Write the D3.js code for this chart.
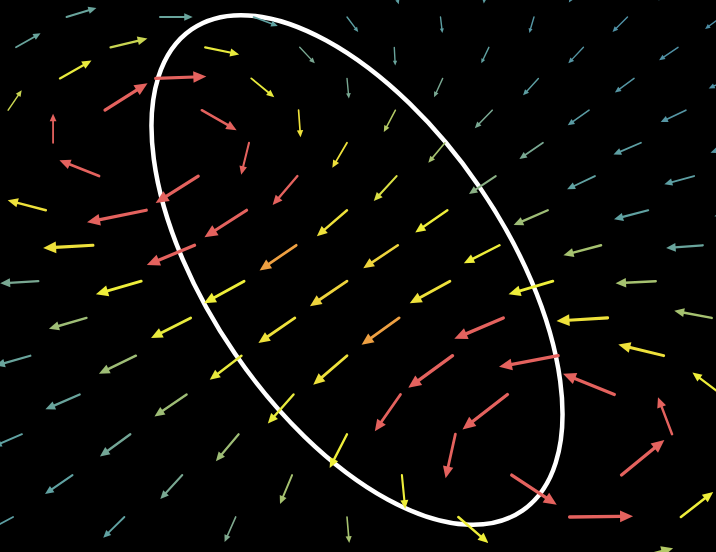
<html>
  <body style="margin:0;background:#000;">
    <script src="https://d3js.org/d3.v7.min.js"></script>
    <script type="text/javascript">
      // vector field sampled on a staggered grid seen in perspective.
      // odd rows hold columns X = -4..4, even rows hold X = -3.5..3.5
      // u = sideways component (column units), v = depth component (row units)
      var fieldU = [
        [0.25, 0.30, 0.30, 0.16, 0.06, -0.02, -0.10, -0.13],
        [null, 0.32, 0.35, 0.26, 0.12, 0.02, -0.05, -0.16, -0.17],
        [0.26, 0.39, 0.36, 0.16, 0.01, -0.08, -0.16, -0.20],
        [null, 0.33, 0.53, 0.24, 0.02, -0.09, -0.16, -0.20, -0.22],
        [0.14, 0.44, 0.36, 0.02, -0.12, -0.18, -0.22, -0.26],
        [null, 0.00, null, -0.08, -0.15, -0.17, -0.24, -0.28, -0.29],
        [null, -0.40, -0.43, -0.25, -0.23, -0.27, -0.28, -0.30],
        [null, -0.38, -0.59, -0.42, -0.30, -0.32, -0.34, -0.34, -0.34],
        [null, -0.49, -0.47, -0.36, -0.34, -0.35, -0.37, -0.36],
        [null, -0.37, -0.44, -0.39, -0.36, -0.39, -0.43, -0.39, null],
        [null, -0.36, -0.38, -0.35, -0.36, -0.47, -0.49, -0.36],
        [null, -0.33, -0.35, -0.30, -0.32, -0.42, -0.56, -0.43, null],
        [null, -0.32, -0.30, -0.24, -0.24, -0.42, -0.48, -0.27],
        [null, -0.26, -0.28, -0.21, -0.16, -0.09, null, -0.13, null],
        [null, -0.25, -0.20, -0.11, 0.03, 0.41, 0.39, null],
        [null, -0.22, -0.19, -0.10, 0.02, 0.27, 0.57, 0.29, null],
        [null, null, null, null, null, null, 0.39, null]
      ];
      var fieldV = [
        [-0.30, -0.10, 0.10, 0.41, 0.58, 0.55, 0.52, 0.45],
        [null, -0.30, 0.00, 0.30, 0.50, 0.53, 0.53, 0.50, 0.40],
        [-0.46, -0.29, 0.23, 0.52, 0.59, 0.52, 0.52, 0.42],
        [null, -0.57, -0.06, 0.60, 0.64, 0.60, 0.54, 0.45, 0.32],
        [-0.62, -0.84, 0.62, 0.84, 0.68, 0.56, 0.47, 0.37],
        [null, -0.88, null, 0.97, 0.76, 0.61, 0.49, 0.36, 0.30],
        [null, -0.47, 0.80, 0.86, 0.74, 0.53, 0.39, 0.24],
        [null, -0.29, 0.35, 0.78, 0.75, 0.64, 0.43, 0.26, 0.17],
        [null, 0.08, 0.56, 0.71, 0.65, 0.51, 0.28, 0.08],
        [null, 0.06, 0.36, 0.61, 0.69, 0.61, 0.36, 0.06, null],
        [null, 0.29, 0.54, 0.67, 0.72, 0.56, 0.08, -0.19],
        [null, 0.26, 0.47, 0.63, 0.76, 0.84, 0.29, -0.29, null],
        [null, 0.38, 0.56, 0.74, 0.94, 0.89, -0.53, -0.56],
        [null, 0.30, 0.55, 0.67, 0.84, 1.09, null, -0.92, null],
        [null, 0.46, 0.58, 0.70, 0.82, 0.72, -0.85, null],
        [null, 0.31, 0.49, 0.59, 0.61, 0.61, -0.02, -0.59, null],
        [null, null, null, null, null, null, -0.27, null]
      ];
      // field magnitude (drives the colour)
      var fieldSpeed = [
        [0.2, 0.2, 0.2, 0.2, 0.2, 0.2, 0.15, 0.15],
        [null, 0.25, 0.25, 0.22, 0.2, 0.2, 0.15, 0.12, 0.1],
        [0.25, 0.5, 0.6, 0.3, 0.25, 0.22, 0.15, 0.12],
        [null, 0.6, 1.0, 0.6, 0.3, 0.3, 0.2, 0.15, 0.12],
        [0.5, 1.0, 1.0, 0.65, 0.45, 0.3, 0.18, 0.15],
        [null, 1.0, null, 1.0, 0.65, 0.42, 0.3, 0.2, 0.15],
        [null, 1.0, 1.0, 1.0, 0.55, 0.35, 0.22, 0.2],
        [null, 0.65, 1.0, 1.0, 0.65, 0.62, 0.4, 0.22, 0.2],
        [null, 0.65, 1.0, 0.8, 0.68, 0.62, 0.42, 0.25],
        [null, 0.3, 0.62, 0.62, 0.68, 0.65, 0.62, 0.42, null],
        [null, 0.4, 0.6, 0.65, 0.8, 1.0, 0.65, 0.42],
        [null, 0.25, 0.4, 0.6, 0.65, 1.0, 1.0, 0.65, null],
        [null, 0.25, 0.4, 0.6, 1.0, 1.0, 1.0, 0.62],
        [null, 0.22, 0.28, 0.4, 0.62, 1.0, null, 1.0, null],
        [null, 0.22, 0.3, 0.42, 0.62, 1.0, 1.0, null],
        [null, 0.2, 0.22, 0.32, 0.42, 0.62, 1.0, 0.62, null],
        [null, null, null, null, null, null, 0.45, null]
      ];
      var speedStops = [0.1, 0.22, 0.32, 0.42, 0.52, 0.62, 0.8, 1.0];
      var speedColors = ["#4d8ea6", "#60a2a2", "#7fa98e", "#a6c270", "#d2da4a", "#eeee3a", "#eea042", "#e4625e"];

      function autorun() {
        var width = 716, height = 552;

        var svg = d3.select("body").append("svg")
          .attr("width", width)
          .attr("height", height)
          .style("display", "block")
          .style("background", "#000");

        // perspective: screen position is linear in inverse depth
        var invDepth = function(r) { return 1 / (88.5 - r); };
        var y = d3.scaleLinear()
          .domain([invDepth(1), invDepth(15)])
          .range([17, 517]);
        var x = d3.scaleLinear()
          .domain([0, 1])
          .range([347, 347 + 8181]);

        var color = d3.scaleLinear()
          .domain(speedStops)
          .range(speedColors)
          .clamp(true);

        var arrows = [];
        fieldU.forEach(function(rowU, r) {
          var offset = (r % 2 === 1) ? -4 : -3.5;
          rowU.forEach(function(u, k) {
            if (u === null) return;
            var w = invDepth(r);
            var colStep = x(w) - x(0);
            var rowStep = y(invDepth(r + 0.5)) - y(invDepth(r - 0.5));
            var x0 = x((k + offset) * w), y0 = y(w);
            arrows.push({
              x0: x0, y0: y0,
              x1: x0 + u * colStep,
              y1: y0 + fieldV[r][k] * rowStep,
              speed: fieldSpeed[r][k]
            });
          });
        });

        // the white loop
        svg.append("ellipse")
          .attr("cx", 357)
          .attr("cy", 270)
          .attr("rx", 292)
          .attr("ry", 148)
          .attr("transform", "rotate(55.5 357 270)")
          .attr("fill", "none")
          .attr("stroke", "#fff")
          .attr("stroke-width", 4.5);

        var g = svg.append("g");
        arrows.forEach(function(d) {
          var dx = d.x1 - d.x0, dy = d.y1 - d.y0;
          var len = Math.sqrt(dx * dx + dy * dy);
          if (len < 1) return;
          var ux = dx / len, uy = dy / len;
          var tip = Math.max(4.5, Math.min(13, len * 0.26));
          var half = tip * 0.45;
          var bx = d.x1 - ux * tip, by = d.y1 - uy * tip;
          var c = color(d.speed);

          g.append("line")
            .attr("x1", d.x0).attr("y1", d.y0)
            .attr("x2", bx + ux * 1).attr("y2", by + uy * 1)
            .attr("stroke", c)
            .attr("stroke-width", Math.max(1.4, Math.min(3.3, len * 0.062)))
            .attr("stroke-linecap", "round");

          g.append("path")
            .attr("d", "M" + d.x1 + "," + d.y1 +
              "L" + (bx - uy * half) + "," + (by + ux * half) +
              "L" + (bx + uy * half) + "," + (by - ux * half) + "Z")
            .attr("fill", c);
        });
      }
      if (window.addEventListener) window.addEventListener("load", autorun, false);
      else window.onload = autorun;
    </script>
  </body>
</html>
